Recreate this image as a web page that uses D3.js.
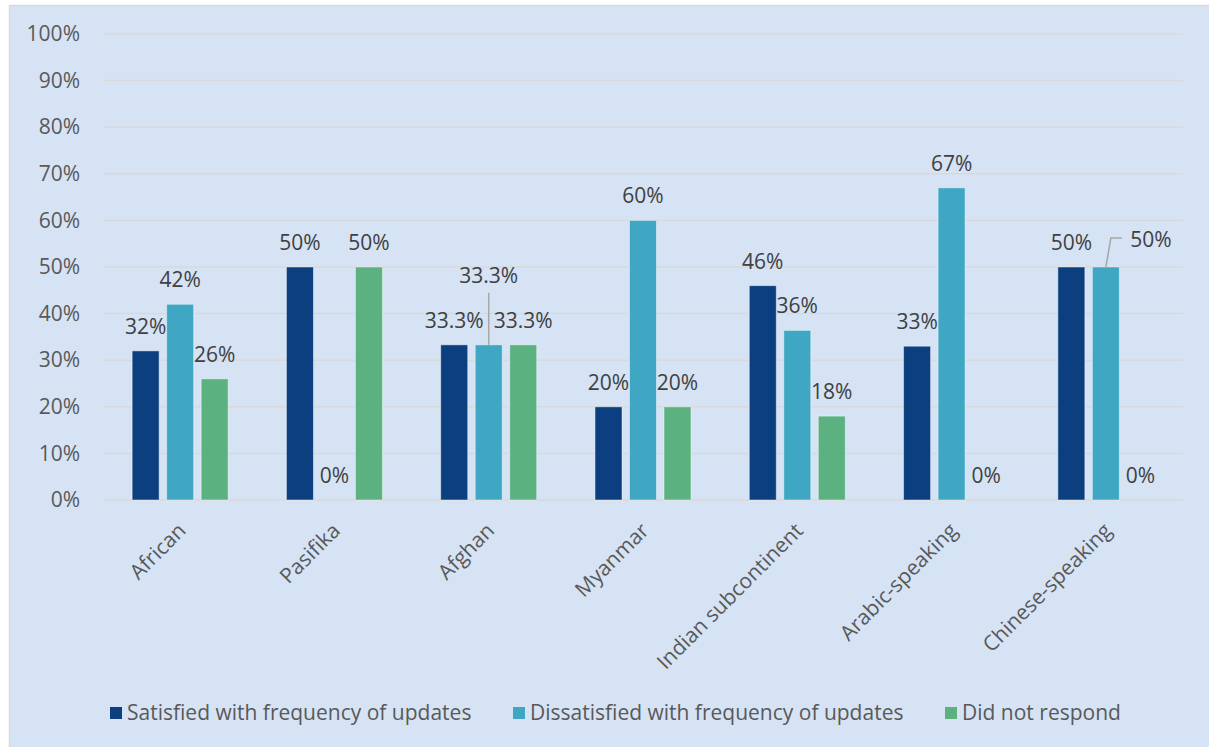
<!DOCTYPE html>
<html>
<head>
<meta charset="utf-8">
<script src="https://cdn.jsdelivr.net/npm/d3@7"></script>
<style>
  html, body { margin: 0; padding: 0; background: #ffffff; }
  svg { display: block; font-family: "Open Sans", "Liberation Sans", sans-serif; }
</style>
</head>
<body>
<svg id="chart" width="1209" height="747"></svg>
<script>
// Survey responses by community group
const categories = ["African", "Pasifika", "Afghan", "Myanmar", "Indian subcontinent", "Arabic-speaking", "Chinese-speaking"];
const seriesNames = ["Satisfied with frequency of updates", "Dissatisfied with frequency of updates", "Did not respond"];
const satisfied    = [32, 50, 33.3, 20, 46, 33, 50];
const dissatisfied = [42, 0, 33.3, 60, 36.4, 67, 50];
const noResponse   = [26, 50, 33.3, 20, 18, 0, 0];
const labelDecimals = [0, 0, 1, 0, 0, 0, 0];
const yTicks = [0, 10, 20, 30, 40, 50, 60, 70, 80, 90, 100];
const seriesColors = ["#0b3f7f", "#3fa7c4", "#5bb280"];

const seriesValues = [satisfied, dissatisfied, noResponse];

const svg = d3.select("#chart");
const W = 1209, H = 747;
const FONT = "21px";

// chart frame
svg.append("rect")
  .attr("x", 9.5).attr("y", 5.5)
  .attr("width", W + 20).attr("height", H + 20)
  .attr("fill", "#d5e3f5")
  .attr("stroke", "#d9d9d9").attr("stroke-width", 1.5);

const plot = { left: 103, right: 1183, top: 34, bottom: 500 };

const x0 = d3.scaleBand().domain(categories).range([plot.left, plot.right]).padding(0);
const groupW = 103.5;
const x1 = d3.scaleBand().domain(seriesNames).range([-groupW / 2, groupW / 2])
  .paddingInner(0.217).paddingOuter(0.1085);
const y = d3.scaleLinear().domain([0, 100]).range([plot.bottom, plot.top]);

// gridlines
svg.append("g").selectAll("line").data(yTicks).join("line")
  .attr("x1", plot.left).attr("x2", plot.right)
  .attr("y1", d => y(d)).attr("y2", d => y(d))
  .attr("stroke", "#d9d9d9").attr("stroke-width", 1.5);

// y axis labels
const yAxis = d3.axisLeft(y).tickValues(yTicks).tickFormat(d => d + "%").tickSize(0).tickPadding(0);
const gy = svg.append("g").attr("transform", `translate(80,0)`).call(yAxis);
gy.select(".domain").remove();
gy.selectAll("text")
  .attr("fill", "#595959")
  .style("font-size", FONT)
  .style("font-family", "'Open Sans', sans-serif");

// bars
const rows = [];
categories.forEach((c, ci) => {
  seriesNames.forEach((s, si) => {
    rows.push({ cat: c, ci, series: s, si, value: seriesValues[si][ci] });
  });
});

const barX = d => x0(d.cat) + x0.bandwidth() / 2 + x1(d.series);

svg.append("g").selectAll("rect").data(rows.filter(d => d.value > 0)).join("rect")
  .attr("x", barX)
  .attr("y", d => y(d.value))
  .attr("width", x1.bandwidth())
  .attr("height", d => y(0) - y(d.value))
  .attr("fill", d => seriesColors[d.si])
  .attr("stroke", "rgba(255,255,255,0.45)")
  .attr("stroke-width", 1);

// data labels (a couple are lifted clear of neighbours with leader lines)
const labelShift = {
  "Afghan|1": { dx: 0, dy: -45, leader: "vertical" },
  "Chinese-speaking|1": { dx: 45, dy: -3, leader: "elbow" }
};

const fmt = d => d3.format("." + labelDecimals[d.ci] + "f")(d.value) + "%";

const labels = svg.append("g");
rows.forEach(d => {
  const cx = barX(d) + x1.bandwidth() / 2;
  const top = y(d.value);
  const sh = labelShift[d.cat + "|" + d.si];
  let lx = cx, ly = top - 17;
  if (sh) {
    lx += sh.dx; ly += sh.dy;
    if (sh.leader === "vertical") {
      labels.append("line")
        .attr("x1", cx).attr("x2", cx)
        .attr("y1", ly + 10).attr("y2", top)
        .attr("stroke", "#a6a6a6").attr("stroke-width", 1.5);
    } else {
      labels.append("polyline")
        .attr("points", `${cx},${top} ${cx + 5},${ly - 9} ${lx - 29},${ly - 9}`)
        .attr("fill", "none")
        .attr("stroke", "#a6a6a6").attr("stroke-width", 1.5);
    }
  }
  labels.append("text")
    .attr("x", lx).attr("y", ly)
    .attr("text-anchor", "middle")
    .attr("fill", "#404040")
    .style("font-size", FONT)
    .text(fmt(d));
});

// category labels
svg.append("g").selectAll("text").data(categories).join("text")
  .attr("transform", d => `translate(${x0(d) + x0.bandwidth() / 2 + 7},${plot.bottom + 32}) rotate(-45)`)
  .attr("text-anchor", "end")
  .attr("fill", "#595959")
  .style("font-size", FONT)
  .text(d => d);

// legend
const legendX = [110, 513, 945];
const lg = svg.append("g");
seriesNames.forEach((s, i) => {
  lg.append("rect")
    .attr("x", legendX[i]).attr("y", 707)
    .attr("width", 12).attr("height", 12)
    .attr("fill", seriesColors[i]);
  lg.append("text")
    .attr("x", legendX[i] + 17).attr("y", 720)
    .attr("fill", "#595959")
    .style("font-size", FONT)
    .text(s);
});
</script>
</body>
</html>
